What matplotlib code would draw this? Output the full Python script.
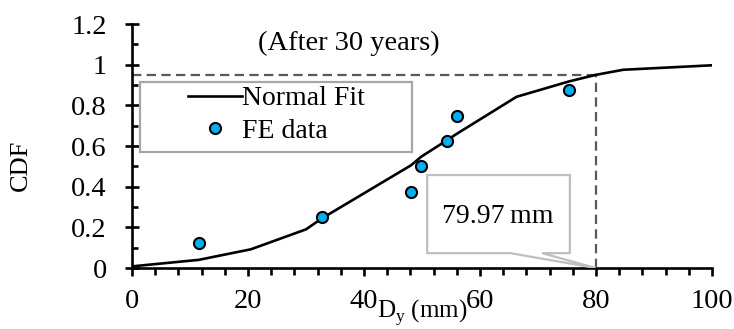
import numpy as np
import matplotlib
matplotlib.use("Agg")
import matplotlib.pyplot as plt
from matplotlib.patches import Polygon, Rectangle
from matplotlib.ticker import MultipleLocator

plt.rcParams['font.family'] = ['Liberation Serif', 'DejaVu Serif']
plt.rcParams['mathtext.fontset'] = 'custom'
plt.rcParams['mathtext.rm'] = 'Liberation Serif'

# Normal fit curve
fit_x = [0, 11.5, 20.5, 30.0, 32.8, 48.1, 49.9, 54.4, 56.0, 66.3, 75.4, 79.97, 84.7, 100]
fit_y = [0.008, 0.04, 0.092, 0.19, 0.245, 0.505, 0.548, 0.63, 0.66, 0.842, 0.918, 0.95, 0.975, 0.997]

# FE data points
fe_x = [11.5, 32.8, 48.1, 49.9, 54.4, 56.0, 75.4]
fe_y = [0.125, 0.25, 0.375, 0.5, 0.625, 0.75, 0.875]

# 95% value
d95 = 79.97
p95 = 0.95

fig = plt.figure(figsize=(7.34, 3.29), dpi=100)
ax = fig.add_axes([0.1798, 0.1854, 0.7902, 0.7416])

ax.plot(fit_x, fit_y, color='black', lw=1.9, label='Normal Fit', zorder=3)
ax.plot(fe_x, fe_y, linestyle='none', marker='o', ms=8, mfc='#00B0F0',
        mec='black', mew=1.5, label='FE data', zorder=4)

dash_kw = dict(color='#595959', lw=1.6, dashes=(4.2, 2.4), zorder=2)
ax.plot([0, d95], [p95, p95], **dash_kw)
ax.plot([d95, d95], [0, p95], **dash_kw)

ax.set_xlim(0, 100)
ax.set_ylim(0, 1.2)
ax.xaxis.set_major_locator(MultipleLocator(20))
ax.xaxis.set_minor_locator(MultipleLocator(4))
ax.yaxis.set_minor_locator(MultipleLocator(0.1))
ax.set_yticks(np.arange(0, 1.21, 0.2))
ax.set_yticklabels(['0', '0.2', '0.4', '0.6', '0.8', '1', '1.2'])

for s in ['top', 'right']:
    ax.spines[s].set_visible(False)
for s in ['left', 'bottom']:
    ax.spines[s].set_linewidth(1.9)

ax.tick_params(axis='both', labelsize=20.5)
ax.tick_params(axis='x', which='major', direction='out', length=6, width=1.9, pad=9)
ax.tick_params(axis='x', which='minor', direction='out', length=5, width=1.9)
ax.tick_params(axis='y', which='major', direction='inout', length=10, width=1.9, pad=13)
ax.tick_params(axis='y', which='minor', direction='in', length=4, width=1.9)

ax.set_ylabel('CDF', fontsize=19)
ax.yaxis.set_label_coords(-0.172, 0.42)
ax.set_xlabel('D$_\\mathrm{y}$ (mm)', fontsize=18)
ax.xaxis.set_label_coords(0.5, -0.122)

ax.text(0.374, 0.922, '(After 30 years)', transform=ax.transAxes,
        ha='center', va='center', fontsize=20.5)

# legend with a wide grey frame
ax.add_patch(Rectangle((0.014, 0.475), 0.469, 0.287, transform=ax.transAxes,
                       fill=True, facecolor='white', edgecolor='#A6A6A6', lw=1.6, zorder=5))
leg = ax.legend(loc='center left', bbox_to_anchor=(0.097, 0.628), frameon=False,
                fontsize=20, handlelength=1.95, handletextpad=0.0,
                labelspacing=0.25, borderpad=0.0, borderaxespad=0.0)
leg.set_zorder(6)

# callout box pointing to the 95% value
x0, x1, y0, y1 = 0.509, 0.755, 0.061, 0.381
tip = (d95 / 100, 0.0)
callout = [(x0, y0), (x0, y1), (x1, y1), (x1, y0), (0.707, y0), tip, (0.652, y0)]
ax.add_patch(Polygon(callout, closed=True, transform=ax.transAxes, facecolor='white',
                     edgecolor='#BFBFBF', lw=1.6, zorder=5))
ax.text((x0 + x1) / 2 - 0.002, 0.213, f'{d95:.2f}\u2009mm', transform=ax.transAxes,
        ha='center', va='center', fontsize=20, zorder=6)

fig.savefig('out.png', dpi=100)
